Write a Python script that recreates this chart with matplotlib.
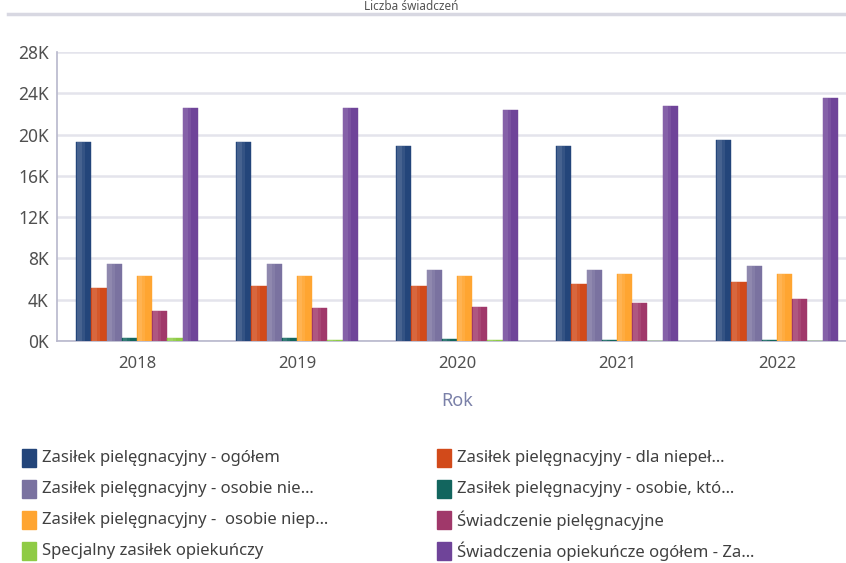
import matplotlib
matplotlib.use("Agg")
import matplotlib.pyplot as plt
from matplotlib.patches import Rectangle
import numpy as np

plt.rcParams['font.family'] = ['Noto Sans', 'DejaVu Sans']

# data
years = ["2018", "2019", "2020", "2021", "2022"]
series_names = [
    "Zasiłek pielęgnacyjny - ogółem",
    "Zasiłek pielęgnacyjny - dla niepeł…",
    "Zasiłek pielęgnacyjny - osobie nie…",
    "Zasiłek pielęgnacyjny - osobie, któ…",
    "Zasiłek pielęgnacyjny -  osobie niep…",
    "Świadczenie pielęgnacyjne",
    "Specjalny zasiłek opiekuńczy",
    "Świadczenia opiekuńcze ogółem - Za…",
]
ogolem = [19300, 19300, 18900, 18900, 19500]
dla_niepel = [5100, 5300, 5300, 5500, 5700]
osobie_nie = [7450, 7450, 6900, 6900, 7300]
osobie_kto = [250, 250, 200, 80, 80]
osobie_niep = [6300, 6300, 6300, 6500, 6500]
swiadczenie = [2950, 3150, 3300, 3700, 4100]
specjalny = [250, 80, 80, 0, 0]
opiekuncze = [22600, 22600, 22400, 22800, 23550]

values = [ogolem, dla_niepel, osobie_nie, osobie_kto, osobie_niep,
          swiadczenie, specjalny, opiekuncze]
colors = ["#23457a", "#d24a1a", "#7a72a0", "#12655e",
          "#ffa531", "#a0386a", "#8fcb45", "#6f4499"]

fig = plt.figure(figsize=(8.46, 5.63), dpi=100)
W, H = 846, 563

# axes placed in pixel terms; right side runs past the figure edge like the original
ax = fig.add_axes([57 / W, (H - 341) / H, 800 / W, 289 / H])

x = np.arange(len(years))
n = len(values)
group_w = 0.76
bw = group_w / n
for i, (vals, c) in enumerate(zip(values, colors)):
    offs = -group_w / 2 + bw * (i + 0.5)
    ax.bar(x + offs, vals, width=bw, color=c, edgecolor=c, linewidth=0.3, zorder=3)
    # soft lighter left side, like the gradient on the original bars
    for frac, a in [(0.5, 0.08), (0.3, 0.09)]:
        ax.bar(x + offs - bw / 2 + bw * frac / 2 + bw * 0.05, vals, width=bw * frac,
               color="white", alpha=a, linewidth=0, zorder=4)

ax.set_xlim(-0.5, 4.5)
ax.set_ylim(0, 28000)
yt = np.arange(0, 28001, 4000)
ax.set_yticks(yt)
ax.set_yticklabels([f"{int(v / 1000)}K" for v in yt], fontsize=12.5, color="#505050")
ax.set_xticks(x)
ax.set_xticklabels(years, fontsize=12, color="#505050")
ax.tick_params(axis='both', length=0, pad=6)
ax.tick_params(axis='x', pad=11)

ax.grid(axis='y', color="#e4e4ec", linewidth=1.8, zorder=0)
for s in ["top", "right"]:
    ax.spines[s].set_visible(False)
ax.spines["left"].set_color("#b8b8cc")
ax.spines["bottom"].set_color("#b8b8cc")
ax.spines["left"].set_linewidth(1.2)
ax.spines["bottom"].set_linewidth(1.2)

ax.set_xlabel("Rok", fontsize=13, color="#7a80a8", labelpad=14)

# title sits right at the top edge, above the separator line
fig.text(411 / W, 1 - 0.5 / H, "Liczba świadczeń", ha="center", va="top",
         fontsize=8.5, color="#555555")
fig.add_artist(plt.Line2D([8 / W, 1], [1 - 14 / H, 1 - 14 / H],
                          color="#d8d8e2", linewidth=2.5))

# legend, two columns
col_x = [22, 437]
row_y = [458, 489, 520, 551]
for i, (name, c) in enumerate(zip(series_names, colors)):
    cx = col_x[i % 2]
    cy = row_y[i // 2]
    fig.add_artist(Rectangle((cx / W, (H - cy - 9) / H), 14 / W, 18 / H,
                             transform=fig.transFigure, color=c))
    fig.text((cx + 20) / W, (H - cy) / H, name, ha="left", va="center",
             fontsize=12, color="#404040")

fig.savefig("out.png", dpi=100)
